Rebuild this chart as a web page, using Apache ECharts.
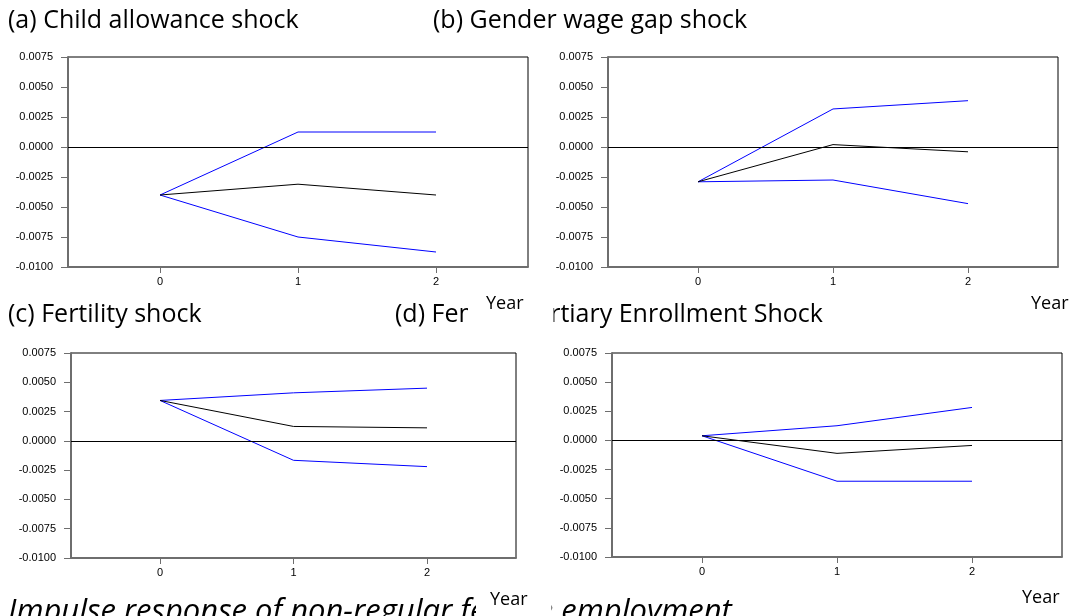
<!DOCTYPE html>
<html>
<head>
<meta charset="utf-8">
<script src="https://cdn.jsdelivr.net/npm/echarts@6/dist/echarts.min.js"></script>
<style>
  html, body { margin: 0; padding: 0; background: #fff; }
  #chart { width: 1074px; height: 616px; }
</style>
</head>
<body>
<div id="chart"></div>
<script>
// horizon (years after shock)
const periods = [0, 1, 2];

const panelTitles = [
  '(a) Child allowance shock',
  '(b) Gender wage gap shock',
  '(c) Fertility shock',
  '(d) Female Tertiary Enrollment Shock'
];

// impulse responses: point estimate, upper band, lower band
const childMid = [-0.0040, -0.0031, -0.0040];
const childUp = [-0.0040, 0.00125, 0.00125];
const childLow = [-0.0040, -0.0075, -0.00875];

const wageMid = [-0.0029, 0.0002, -0.0004];
const wageUp = [-0.0029, 0.00317, 0.00386];
const wageLow = [-0.0029, -0.00275, -0.00472];

const fertMid = [0.00345, 0.00123, 0.00111];
const fertUp = [0.00345, 0.0041, 0.0045];
const fertLow = [0.00345, -0.00166, -0.0022];

const tertMid = [0.0004, -0.00111, -0.00043];
const tertUp = [0.0004, 0.00126, 0.00283];
const tertLow = [0.0004, -0.0035, -0.0035];

const panels = [
  [childMid, childUp, childLow],
  [wageMid, wageUp, wageLow],
  [fertMid, fertUp, fertLow],
  [tertMid, tertUp, tertLow]
];

const grids = [
  { left: 68, right: 546, top: 57, bottom: 349 },
  { left: 608, right: 16, top: 57, bottom: 349 },
  { left: 71, right: 558, top: 353, bottom: 58 },
  { left: 612, right: 12, top: 353, bottom: 59 }
];

const axisGray = '#6e6e6e';
const tickFont = { fontFamily: 'Liberation Sans, Arial, sans-serif', fontSize: 11, color: '#000' };

const xAxes = [], yAxes = [], series = [];
panels.forEach((p, i) => {
  xAxes.push({
    gridIndex: i, type: 'value', min: -2 / 3, max: 8 / 3,
    axisLine: { show: true, onZero: false, lineStyle: { color: axisGray, width: 2 } },
    axisTick: { show: true, length: 6, customValues: periods, lineStyle: { color: axisGray } },
    axisLabel: { ...tickFont, customValues: periods, margin: 9 },
    splitLine: { show: false }
  });
  yAxes.push({
    gridIndex: i, type: 'value', min: -0.01, max: 0.0075, interval: 0.0025,
    axisLine: { show: true, onZero: false, lineStyle: { color: axisGray, width: 2 } },
    axisTick: { show: true, length: 7, lineStyle: { color: axisGray } },
    axisLabel: { ...tickFont, margin: 15, formatter: v => v.toFixed(4) },
    splitLine: { show: false }
  });
  p.forEach((vals, k) => {
    series.push({
      type: 'line',
      xAxisIndex: i, yAxisIndex: i,
      data: periods.map((t, j) => [t, vals[j]]),
      symbol: 'none',
      silent: true,
      lineStyle: { color: k === 0 ? '#000' : '#0000ff', width: 1 },
      markLine: k === 0 ? {
        silent: true, symbol: 'none', label: { show: false },
        lineStyle: { color: '#000', width: 1, type: 'solid' },
        data: [{ yAxis: 0 }]
      } : undefined,
      z: k === 0 ? 3 : 2
    });
  });
});

const titleFont = 'Open Sans, Noto Sans, sans-serif';
const text = (x, y, str, size, extra) => ({
  type: 'text', left: x, top: y, z: 10,
  style: Object.assign({ text: str, fontFamily: titleFont, fontSize: size, fill: '#000' }, extra || {})
});
// "Year" labels sit in white boxes that hide part of the titles behind them
const yearBox = (x, y, pad) => ({
  type: 'text', left: x, top: y, z: 20,
  style: { text: 'Year', fontFamily: titleFont, fontSize: 18, fill: '#000',
    backgroundColor: '#fff', padding: pad || [0, 0, 0, 0] }
});

const chart = echarts.init(document.getElementById('chart'));
chart.setOption({
  animation: false,
  grid: grids.map(g => Object.assign({ show: true, borderColor: '#000', borderWidth: 1, backgroundColor: 'transparent' }, g)),
  xAxis: xAxes,
  yAxis: yAxes,
  series: series,
  graphic: [
    text(8, 8, panelTitles[0], 25),
    text(433, 8, panelTitles[1], 25),
    text(8, 302, panelTitles[2], 25),
    text(395, 302, panelTitles[3], 25),
    text(8, 597, 'Impulse response of non-regular female employment', 31, { fontStyle: 'italic' }),
    yearBox(468, 295, [0, 30, 20, 18]),
    yearBox(1031, 295),
    yearBox(476, 591, [0, 24, 20, 14]),
    yearBox(1022, 589)
  ]
});
</script>
</body>
</html>
